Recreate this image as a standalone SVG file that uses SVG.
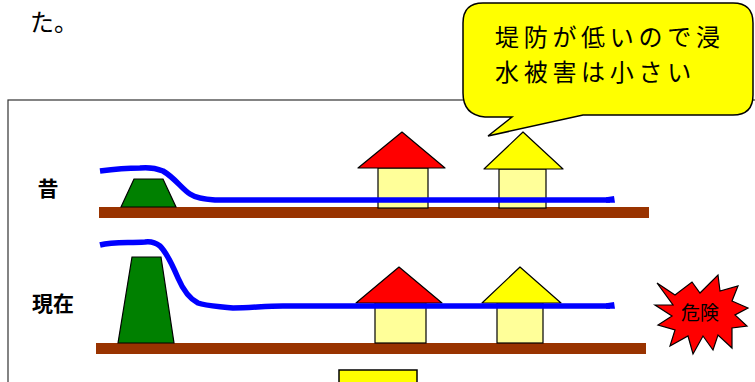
<svg xmlns="http://www.w3.org/2000/svg" width="755" height="382" viewBox="0 0 755 382">
  <style>
    .jp { font-family: "Noto Sans CJK JP", "Noto Sans", sans-serif; fill: #000; }
    .label { font-size: 21px; font-weight: bold; }
    .callout-text { font-size: 24px; letter-spacing: 4.7px; }
    .ground { fill: #993300; }
    .dike { fill: #008000; stroke: #000; stroke-width: 1.2; }
    .wall { fill: #FFFF99; stroke: #000; stroke-width: 1.2; }
    .roof-red { fill: #FF0000; stroke: #000; stroke-width: 1.2; stroke-linejoin: round; }
    .roof-yel { fill: #FFFF00; stroke: #000; stroke-width: 1.2; stroke-linejoin: round; }
    .water { fill: none; stroke: #0000FF; stroke-width: 5.5; stroke-linecap: butt; stroke-linejoin: round; }
    .water-end { fill: #0000FF; }
  </style>

  <rect width="755" height="382" fill="#fff"/>

  <!-- trailing sentence fragment -->
  <text class="jp" x="30" y="31" font-size="24">た。</text>

  <!-- panel frame -->
  <rect id="frame" x="8" y="100" width="820" height="400" fill="none" stroke="#333" stroke-width="1.2"/>

  <!-- then: low levee -->
  <g id="then">
    <text class="jp label" x="48" y="196" text-anchor="middle">昔</text>
    <rect class="ground" x="99" y="207" width="550" height="11"/>
    <polygon class="dike" points="121,207 134,179 163,179 176,207"/>
    <g id="then-house-1">
      <rect class="wall" x="378" y="168" width="50" height="40"/>
      <polygon class="roof-red" points="358,168 402,132 445,168"/>
    </g>
    <g id="then-house-2">
      <rect class="wall" x="499" y="169" width="47" height="39"/>
      <polygon class="roof-yel" points="484,169 523,132 563,169"/>
    </g>
    <path class="water" d="M100,171 C115,169 128,168 140,168 C150,167 158,169 163,171 C175,178 182,189 190,194 C196,198 203,199 215,200 L610,200"/>
    <polygon class="water-end" points="606,197.2 614,196 615,202.8 606,202.8"/>
  </g>

  <!-- now: high levee -->
  <g id="now">
    <text class="jp label" x="53" y="311" text-anchor="middle">現在</text>
    <rect class="ground" x="96" y="343" width="550" height="11"/>
    <polygon class="dike" points="118,343 132,257 161,257 174,343"/>
    <g id="now-house-1">
      <rect class="wall" x="375" y="303" width="51" height="40"/>
      <polygon class="roof-red" points="356,303 399,267 442,303"/>
    </g>
    <g id="now-house-2">
      <rect class="wall" x="497" y="303" width="46" height="40"/>
      <polygon class="roof-yel" points="482,303 520,267 561,303"/>
    </g>
    <path class="water" d="M100,245 C112,242 125,243 145,242 C152,241 156,243 160,246 C166,252 172,264 178,278 C184,292 190,299 198,303 C206,306 215,306 233,308 C250,308 265,306 283,306 L610,306"/>
    <polygon class="water-end" points="606,303.2 614,302 615,308.8 606,308.8"/>
  </g>

  <!-- danger burst -->
  <g id="danger">
    <polygon fill="#FF0000" stroke="#000" stroke-width="1.2" stroke-linejoin="miter"
      points="657,283 675,295 692,282 700,293 718,275 720,291 738,286 732,301 748,308 735,315 747,326 732,328 732,348 718,335 713,350 703,336 693,354 688,336 670,346 675,330 658,325 672,316 655,305 673,305"/>
    <text class="jp" x="700" y="320" font-size="19" text-anchor="middle">危険</text>
  </g>

  <!-- partially visible box at bottom -->
  <rect id="bottom-box" x="339" y="370" width="78" height="30" fill="#FFFF00" stroke="#000" stroke-width="1.5"/>

  <!-- callout -->
  <g id="callout">
    <path d="M483,3 H733 Q753,3 753,23 V95 Q753,115 733,115 H583 L488,136 L512,117 H485 Q463,115 463,93 V23 Q463,3 483,3 Z"
      fill="#FFFF00" stroke="#000" stroke-width="1.5" stroke-linejoin="miter"/>
    <text class="jp callout-text" x="495" y="46">堤防が低いので浸</text>
    <text class="jp callout-text" x="495" y="81">水被害は小さい</text>
  </g>
</svg>
